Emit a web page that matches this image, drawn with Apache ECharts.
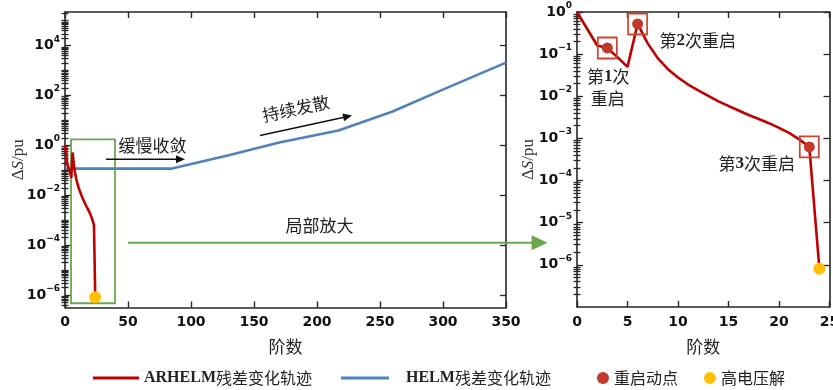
<!DOCTYPE html>
<html>
<head>
<meta charset="utf-8">
<script src="https://cdn.jsdelivr.net/npm/echarts@6/dist/echarts.min.js"></script>
<style>
  html, body { margin: 0; padding: 0; background: #fff; }
  #chart { width: 833px; height: 390px; }
</style>
</head>
<body>
<div id="chart"></div>
<script>
// ARHELM residual ΔS per series order (restarts at orders 3, 6 and 23)
const arhelmOrders = [0, 1, 2, 3, 4, 5, 6, 7, 8, 9, 10, 11, 12, 13, 14, 15, 16, 17, 18, 19, 20, 21, 22, 23, 24];
const arhelmValues = [1.0, 0.40, 0.16, 0.14, 0.085, 0.05, 0.52, 0.18, 0.080, 0.044, 0.028, 0.019, 0.0138, 0.0102,
  0.0076, 0.0059, 0.0046, 0.0036, 0.0029, 0.0023, 0.00178, 0.00135, 0.00095, 0.00063, 8.1e-7];

// HELM residual ΔS: slow convergence, then steady divergence
const helmOrders = [1, 84, 130, 170, 217, 260, 298, 350];
const helmValues = [0.117, 0.117, 0.40, 1.32, 3.98, 22.9, 158, 2090];

// restart points and the final high-voltage solution
const restartOrders = [3, 6, 23];
const solutionOrders = [24];

// tick labels (decade exponents) and x ticks
const leftXTicks = [0, 50, 100, 150, 200, 250, 300, 350];
const rightXTicks = [0, 5, 10, 15, 20, 25];
const leftYLabelExp = [-6, -4, -2, 0, 2, 4];
const rightYLabelExp = [-6, -5, -4, -3, -2, -1, 0];

// names
const NAME_AR = 'ARHELM残差变化轨迹';
const NAME_HELM = 'HELM残差变化轨迹';
const NAME_RESTART = '重启动点';
const NAME_SOL = '高电压解';

const lg = Math.log10;
const pairs = (xs, ys) => xs.map((x, i) => [x, lg(ys[i])]);
const pick = orders => orders.map(o => [o, lg(arhelmValues[arhelmOrders.indexOf(o)])]);

const arhelmData = pairs(arhelmOrders, arhelmValues);
const helmData = pairs(helmOrders, helmValues);
const restartData = pick(restartOrders);
const solutionData = pick(solutionOrders);

const AXIS_COLOR = '#262626';
const RED = '#c00000';
const BLUE = '#4f81bd';
const DOT_RED = '#c0392b';
const BOX_RED = '#cc4430';
const YELLOW = '#ffc000';
const GREEN = '#6aa84f';
const TXT = '#222';
const CJK = '"Noto Sans CJK SC", sans-serif';
const NUM = '"DejaVu Sans", sans-serif';
const SERIF = '"Liberation Serif", serif';

function minorExps(lo, hi, majors) {
  const out = [];
  for (let n = Math.floor(lo); n <= Math.ceil(hi); n++) {
    for (let k = 1; k <= 9; k++) {
      const v = n + lg(k);
      if (v > lo + 1e-6 && v < hi - 1e-6 && !majors.some(m => Math.abs(m - v) < 1e-9)) out.push(v);
    }
  }
  return out;
}

function powLabel(e) {
  const n = Math.round(e);
  return '{b|10}{s|' + (n < 0 ? '\u2212' + (-n) : String(n)) + '}';
}
const powRich = {
  b: { fontSize: 14, fontFamily: NUM, fontWeight: 'bold', color: '#111', lineHeight: 22 },
  s: { fontSize: 9, fontFamily: NUM, fontWeight: 'bold', color: '#111', lineHeight: 11, verticalAlign: 'top' }
};

function xAxes(gridIndex, min, max, step, ticks) {
  const common = {
    gridIndex, type: 'value', min, max, interval: step,
    axisLine: { show: true, onZero: false, lineStyle: { color: AXIS_COLOR, width: 1.6 } },
    axisTick: { show: true, inside: true, length: 6, lineStyle: { color: AXIS_COLOR, width: 1.4 } },
    splitLine: { show: false }
  };
  return [
    Object.assign({}, common, {
      position: 'bottom',
      axisLabel: { customValues: ticks, margin: 8, fontSize: 14, fontFamily: NUM, fontWeight: 'bold', color: '#111' },
      name: '阶数', nameLocation: 'middle', nameGap: 31,
      nameTextStyle: { fontFamily: CJK, fontSize: 17, color: TXT }
    }),
    Object.assign({}, common, { position: 'top', axisLabel: { show: false } })
  ];
}

function yAxes(gridIndex, min, max, labelExp, nameGap) {
  const majors = labelExp;
  const minors = minorExps(min, max, majors);
  const line = { show: true, onZero: false, lineStyle: { color: AXIS_COLOR, width: 1.6 } };
  const tickStyle = { color: AXIS_COLOR, width: 1.3 };
  const base = { gridIndex, type: 'value', min, max, splitLine: { show: false } };
  return [
    Object.assign({}, base, {
      position: 'left', axisLine: line,
      axisTick: { show: true, inside: true, length: 6, customValues: majors, lineStyle: tickStyle },
      axisLabel: { customValues: labelExp, margin: 5, formatter: powLabel, rich: powRich },
      name: 'Δ{i|S}/pu', nameLocation: 'middle', nameGap, nameMoveOverlap: false,
      nameTextStyle: { fontFamily: SERIF, fontSize: 17, color: '#333',
        rich: { i: { fontFamily: SERIF, fontStyle: 'italic', fontSize: 17, color: '#333' } } }
    }),
    Object.assign({}, base, {
      position: 'left', axisLine: { show: false },
      axisTick: { show: true, inside: true, length: 3.5, customValues: minors, lineStyle: tickStyle },
      axisLabel: { show: false }
    }),
    Object.assign({}, base, {
      position: 'right', axisLine: line,
      axisTick: { show: true, inside: true, length: 6, customValues: majors, lineStyle: tickStyle },
      axisLabel: { show: false }
    }),
    Object.assign({}, base, {
      position: 'right', axisLine: { show: false },
      axisTick: { show: true, inside: true, length: 3.5, customValues: minors, lineStyle: tickStyle },
      axisLabel: { show: false }
    })
  ];
}

const legendText = {
  fontFamily: CJK, fontSize: 16, color: TXT,
  rich: { e: { fontFamily: SERIF, fontWeight: 'bold', fontSize: 16, color: TXT } }
};
const legendFmt = name => name.replace(/^([A-Z]+)/, '{e|$1}');

function legendItem(name, left, icon, w, h, color, pad) {
  return {
    data: [{ name, icon, itemStyle: { color, opacity: 1 } }],
    left, top: 365, itemWidth: w, itemHeight: h, itemGap: 0,
    formatter: legendFmt, selectedMode: false,
    textStyle: Object.assign({}, legendText, { padding: pad || 0 })
  };
}

const option = {
  animation: false,
  backgroundColor: '#fff',
  grid: [
    { left: 65, top: 12, width: 441, height: 295.5, outerBoundsMode: 'none', containLabel: false },
    { left: 577, top: 12, width: 252.5, height: 295, outerBoundsMode: 'none', containLabel: false }
  ],
  xAxis: [].concat(xAxes(0, 0, 350, 50, leftXTicks), xAxes(1, 0, 25, 5, rightXTicks)),
  yAxis: [].concat(yAxes(0, -6.5, 5.35, leftYLabelExp, 38), yAxes(1, -7, 0, rightYLabelExp, 40)),
  legend: [
    legendItem(NAME_AR, 88, 'rect', 46, 3, RED),
    legendItem(NAME_HELM, 336, 'rect', 48, 3, BLUE, [0, 0, 0, 12]),
    legendItem(NAME_RESTART, 592, 'circle', 12, 12, DOT_RED),
    legendItem(NAME_SOL, 699, 'circle', 12, 12, YELLOW)
  ],
  series: [
    { name: NAME_HELM, type: 'line', xAxisIndex: 0, yAxisIndex: 0, data: helmData,
      symbol: 'none', lineStyle: { color: BLUE, width: 2.6 }, itemStyle: { color: BLUE }, z: 3 },
    { name: NAME_AR, type: 'line', xAxisIndex: 0, yAxisIndex: 0, data: arhelmData,
      symbol: 'none', lineStyle: { color: RED, width: 2.6 }, itemStyle: { color: RED }, z: 4 },
    { name: NAME_SOL, type: 'scatter', xAxisIndex: 0, yAxisIndex: 0, data: solutionData,
      symbolSize: 12, itemStyle: { color: YELLOW, opacity: 1 }, z: 6 },

    { name: NAME_AR, type: 'line', xAxisIndex: 2, yAxisIndex: 4, data: arhelmData,
      symbol: 'none', lineStyle: { color: RED, width: 2.6 }, itemStyle: { color: RED }, z: 4 },
    { name: 'restart-frame', type: 'scatter', xAxisIndex: 2, yAxisIndex: 4, data: restartData,
      symbol: 'rect', symbolSize: [19, 21],
      itemStyle: { color: 'rgba(0,0,0,0)', borderColor: BOX_RED, borderWidth: 1.8, opacity: 1 }, z: 5 },
    { name: NAME_RESTART, type: 'scatter', xAxisIndex: 2, yAxisIndex: 4, data: restartData,
      symbolSize: 11, itemStyle: { color: DOT_RED, opacity: 1 }, z: 6 },
    { name: NAME_SOL, type: 'scatter', xAxisIndex: 2, yAxisIndex: 4, data: solutionData,
      symbolSize: 12, itemStyle: { color: YELLOW, opacity: 1 }, z: 6 }
  ]
};

const chart = echarts.init(document.getElementById('chart'));
chart.setOption(option);

// annotation anchors in data units (order, log10 ΔS)
const L = p => chart.convertToPixel({ xAxisIndex: 0, yAxisIndex: 0 }, p);
const R = p => chart.convertToPixel({ xAxisIndex: 2, yAxisIndex: 4 }, p);

function arrow(a, b, color, w, headLen, headHalf) {
  const dx = b[0] - a[0], dy = b[1] - a[1];
  const len = Math.hypot(dx, dy), ux = dx / len, uy = dy / len;
  const base = [b[0] - ux * headLen, b[1] - uy * headLen];
  return [
    { type: 'line', z: 50, shape: { x1: a[0], y1: a[1], x2: base[0] + ux, y2: base[1] + uy },
      style: { stroke: color, lineWidth: w } },
    { type: 'polygon', z: 50, shape: { points: [b,
        [base[0] - uy * headHalf, base[1] + ux * headHalf],
        [base[0] + uy * headHalf, base[1] - ux * headHalf]] },
      style: { fill: color } }
  ];
}

function label(p, text, rot) {
  return {
    type: 'text', z: 50, x: p[0], y: p[1], rotation: rot || 0,
    style: {
      text, align: 'center', verticalAlign: 'middle', fill: TXT,
      font: '17px ' + CJK,
      rich: { d: { fontFamily: SERIF, fontWeight: 'bold', fontSize: 17, fill: TXT } }
    }
  };
}

const boxA = L([4.8, 0.24]), boxB = L([39.7, -6.33]);
const divA = L([154.8, 0.4]), divB = L([227.8, 1.2]);
const divRot = -Math.atan2(divB[1] - divA[1], divB[0] - divA[0]);

const graphics = [
  { type: 'rect', z: 2, shape: { x: boxA[0], y: boxA[1], width: boxB[0] - boxA[0], height: boxB[1] - boxA[1] },
    style: { fill: 'none', stroke: GREEN, lineWidth: 1.8 } },
  ...arrow(L([50, -3.9]), L([383, -3.9]), GREEN, 2, 16, 7.5),
  ...arrow(L([32.5, -0.55]), L([95.2, -0.55]), '#111', 1.5, 9, 4),
  ...arrow(divA, divB, '#111', 1.5, 9, 4),
  label(L([69.4, 0.0]), '缓慢收敛'),
  label(L([183.3, 1.48]), '持续发散', divRot),
  label(L([202, -3.2]), '局部放大'),
  label(R([11.95, -0.67]), '第{d|2}次重启'),
  label(R([3.1, -1.54]), '第{d|1}次'),
  label(R([3.05, -2.06]), '重启'),
  label(R([17.8, -3.6]), '第{d|3}次重启')
];
chart.setOption({ graphic: graphics });
</script>
</body>
</html>
